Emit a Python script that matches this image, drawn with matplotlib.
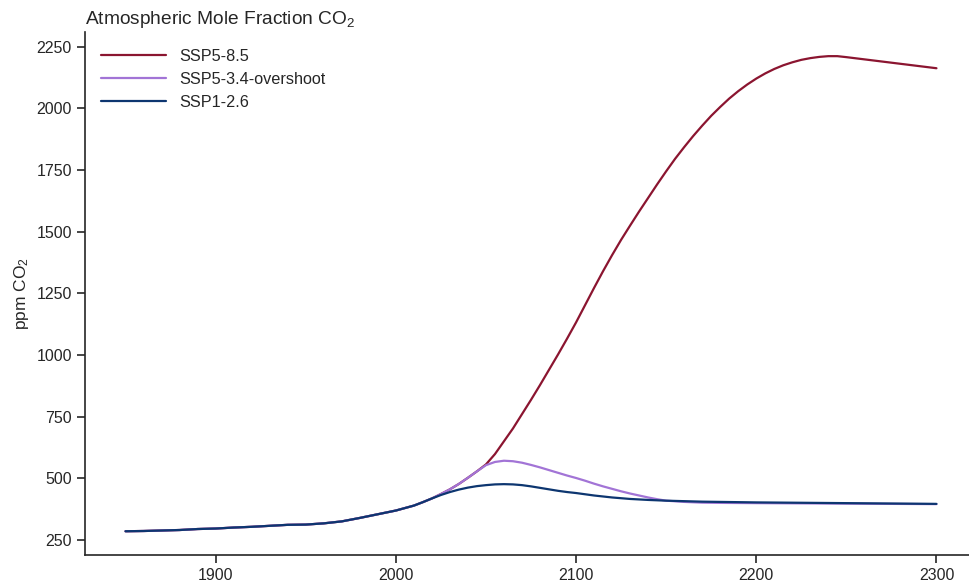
import numpy as np
import matplotlib
matplotlib.use("Agg")
import matplotlib.pyplot as plt
import seaborn as sns

# Shared historical record (ppm)
hist_years = [1850, 1860, 1870, 1880, 1890, 1900, 1910, 1920, 1930, 1940,
              1950, 1960, 1970, 1980, 1990, 2000, 2005, 2010, 2015, 2020]
hist_co2 = [285, 286, 288, 290, 294, 296, 300, 303, 307, 311,
            312, 317, 325, 339, 354, 369, 379, 389, 403, 418]

# Scenario projections (ppm)
ssp585_years = [2025, 2030, 2035, 2040, 2045, 2050, 2055, 2060, 2065, 2070,
                2075, 2080, 2085, 2090, 2095, 2100, 2105, 2110, 2115, 2120,
                2125, 2130, 2135, 2140, 2145, 2150, 2155, 2160, 2165, 2170,
                2175, 2180, 2185, 2190, 2195, 2200, 2205, 2210, 2215, 2220,
                2225, 2230, 2235, 2240, 2245, 2250, 2260, 2270, 2280, 2290, 2300]
ssp585_co2 = [436, 455, 477, 502, 528, 556, 598, 650, 702, 760,
              818, 878, 940, 1002, 1066, 1132, 1202, 1272, 1340, 1405,
              1467, 1525, 1582, 1637, 1692, 1745, 1796, 1843, 1888, 1930,
              1970, 2006, 2040, 2070, 2097, 2121, 2142, 2160, 2175, 2187,
              2197, 2204, 2209, 2212, 2212, 2208, 2199, 2190, 2181, 2172, 2163]

ssp534_years = [2025, 2030, 2035, 2040, 2045, 2050, 2055, 2060, 2065, 2070,
                2075, 2080, 2085, 2090, 2095, 2100, 2105, 2110, 2115, 2120,
                2125, 2130, 2135, 2140, 2145, 2150, 2160, 2170, 2180, 2200,
                2250, 2300]
ssp534_co2 = [436, 455, 477, 502, 528, 553, 566, 571, 569, 563,
              554, 544, 533, 522, 511, 501, 490, 478, 467, 457,
              447, 438, 430, 422, 415, 409, 404, 401, 400, 399,
              397, 395]

ssp126_years = [2025, 2030, 2035, 2040, 2045, 2050, 2055, 2060, 2065, 2070,
                2075, 2080, 2085, 2090, 2095, 2100, 2110, 2120, 2130, 2140,
                2150, 2160, 2170, 2180, 2200, 2250, 2300]
ssp126_co2 = [432, 444, 454, 462, 468, 472, 475, 476, 475, 472,
              467, 461, 455, 449, 444, 440, 430, 422, 416, 412,
              409, 407, 405, 404, 402, 399, 396]

labels = ["SSP5-8.5", "SSP5-3.4-overshoot", "SSP1-2.6"]
colors = ["#8b1530", "#a274d6", "#0d3670"]

sns.set_theme(style="ticks")
plt.rcParams["font.family"] = ["Liberation Sans", "DejaVu Sans"]
plt.rcParams["mathtext.default"] = "regular"

fig = plt.figure(figsize=(9.69, 5.88), dpi=100)
ax = fig.add_axes([85 / 969, 33 / 588, 892 / 969, 522.6 / 588])

series = [(ssp585_years, ssp585_co2), (ssp534_years, ssp534_co2), (ssp126_years, ssp126_co2)]
for (yrs, vals), lab, col in zip(series, labels, colors):
    x = hist_years + yrs
    y = hist_co2 + vals
    ax.plot(x, y, color=col, lw=1.6, label=lab)

ax.set_xticks([1900, 2000, 2100, 2200, 2300])
ax.set_yticks([250, 500, 750, 1000, 1250, 1500, 1750, 2000, 2250])
ax.tick_params(labelsize=11.5, length=6, width=1.2, colors=".15")
for s in ["left", "bottom"]:
    ax.spines[s].set_linewidth(1.2)
sns.despine(ax=ax)

ax.set_title("Atmospheric Mole Fraction CO$_2$", loc="left", fontsize=13.8, pad=6, color=".15")
ax.set_ylabel("ppm CO$_2$", fontsize=12.5, color=".15")

ax.legend(loc="upper left", frameon=False, fontsize=11.7, handlelength=4.0,
          handletextpad=0.8, labelspacing=0.5, borderaxespad=0.6)

fig.savefig("out.png", dpi=100)
